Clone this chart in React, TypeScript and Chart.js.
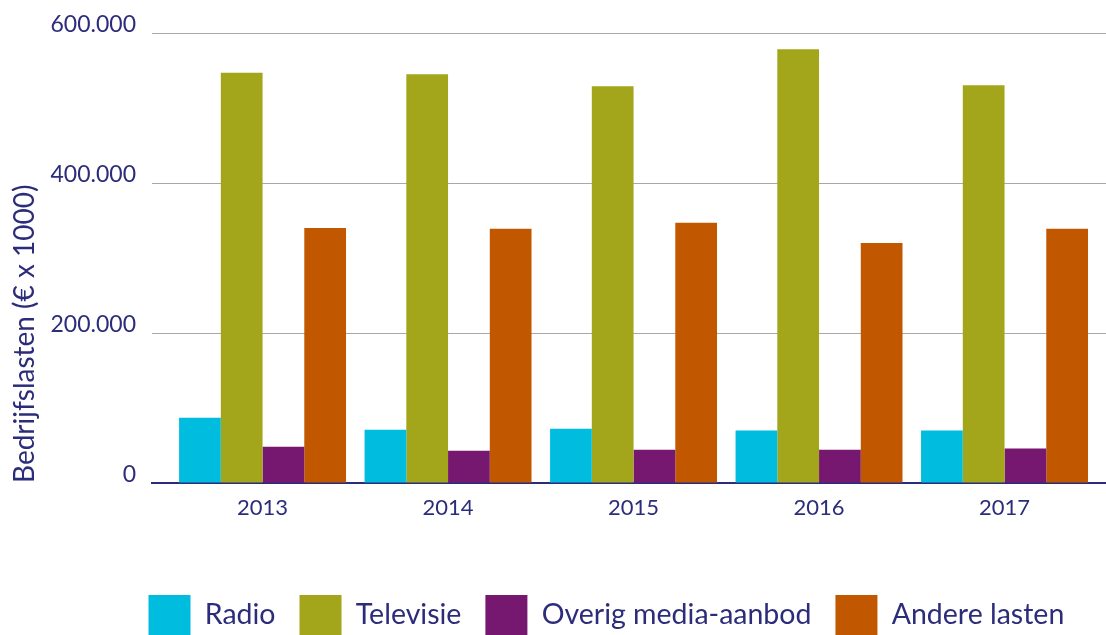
import React, { useEffect, useRef } from 'react';
import { Chart, registerables } from 'chart.js';

Chart.register(...registerables);

const years = ['2013', '2014', '2015', '2016', '2017'];
const radio = [87000, 71000, 72500, 70000, 70000];
const televisie = [547000, 545000, 529000, 578500, 530500];
const overig = [48500, 43000, 44500, 44500, 46000];
const andere = [340000, 339000, 347000, 320000, 339000];
const seriesNames = ['Radio', 'Televisie', 'Overig media-aanbod', 'Andere lasten'];
const seriesColors = ['#00BCDF', '#A3A51B', '#761870', '#C15800'];
const yMax = 600000;
const yStep = 200000;
const yTitle = 'Bedrijfslasten (€ x 1000)';

const NAVY = '#2C2D7A';
const FONT = 'Lato';

const fmt = (v: number) => String(v).replace(/\B(?=(\d{3})+(?!\d))/g, '.');

const legendPlacer = {
  id: 'legendPlacer',
  afterLayout(chart: any) {
    const lg = chart.legend;
    if (!lg) return;
    lg.left = 124.5;
    lg.right = 1106;
    lg.top = 571;
    lg.bottom = 640;
  },
};

export default function App() {
  const ref = useRef<HTMLCanvasElement | null>(null);
  useEffect(() => {
    if (!ref.current) return;
    const all = [radio, televisie, overig, andere];
    const chart = new Chart(ref.current, {
      type: 'bar',
      data: {
        datasets: all.map((vals, k) => ({
          label: seriesNames[k],
          data: vals.map((y, i) => ({ x: i, y })),
          backgroundColor: seriesColors[k],
          borderWidth: 0,
          categoryPercentage: 0.9,
          barPercentage: 1,
        })),
      },
      options: {
        animation: false,
        responsive: true,
        maintainAspectRatio: false,
        layout: { padding: { top: 33, left: 0, right: 0, bottom: 0 } },
        plugins: {
          tooltip: { enabled: false },
          legend: {
            position: 'bottom',
            align: 'start',
            labels: {
              boxWidth: 42,
              boxHeight: 40,
              padding: 24,
              color: NAVY,
              font: { family: FONT, size: 28.5 },
            },
          },
        },
        scales: {
          x: {
            type: 'linear',
            offset: false,
            min: -0.596,
            max: 4.547,
            afterBuildTicks: (scale: any) => {
              scale.ticks = years.map((_, i) => ({ value: i }));
            },
            grid: { display: false, drawTicks: false, offset: false },
            border: { display: true, color: NAVY, width: 2 },
            ticks: {
              includeBounds: false,
              stepSize: 1,
              padding: 12,
              color: NAVY,
              font: { family: FONT, size: 22 },
              callback: (v: any) => years[v] ?? '',
              maxRotation: 0,
              autoSkip: false,
            },
          },
          y: {
            min: 0,
            max: yMax,
            afterFit: (scale: any) => {
              scale.width = 152;
            },
            grid: {
              color: (c: any) => (c.tick && c.tick.value === 0 ? 'rgba(0,0,0,0)' : '#A8A8A8'),
              lineWidth: 1,
              drawTicks: false,
            },
            border: { display: false },
            ticks: {
              stepSize: yStep,
              padding: 16,
              labelOffset: -8,
              color: NAVY,
              font: { family: FONT, size: 23 },
              callback: (v: any) => fmt(Number(v)),
            },
            title: {
              display: true,
              text: yTitle,
              align: 'start',
              color: NAVY,
              font: { family: FONT, size: 28 },
              padding: { top: 8, bottom: 0 },
            },
          },
        },
      },
      plugins: [
        legendPlacer,
        {
          id: 'xHeight',
          beforeInit(chart: any) {
            const xs = chart.options.scales.x;
            xs.afterFit = (scale: any) => {
              const lg = chart.legend;
              const lgH = lg ? lg.height : 0;
              scale.height = chart.height - lgH - 483;
            };
          },
        },
      ],
    } as any);
    return () => chart.destroy();
  }, []);
  return (
    <div style={{ position: 'absolute', left: 0, top: 0, width: 1106, height: 635, overflow: 'hidden' }}>
      <canvas ref={ref} />
    </div>
  );
}
